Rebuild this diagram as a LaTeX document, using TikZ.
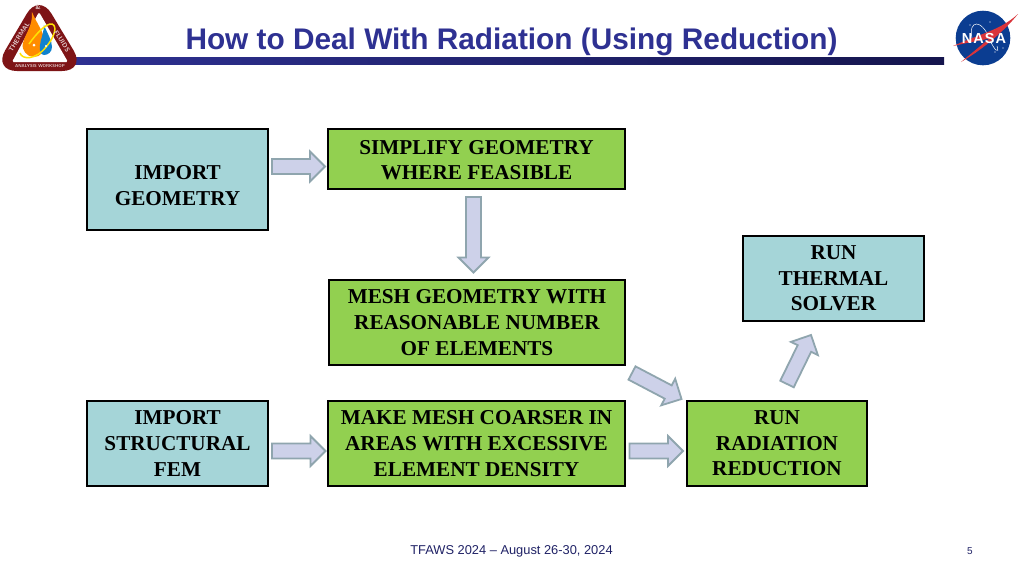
\documentclass[tikz,border=0pt]{standalone}
\usepackage{fontspec}
\setmainfont{Liberation Serif}
\newfontfamily\sansf{Liberation Sans}
\newfontfamily\nasaf[LetterSpace=7]{Liberation Sans}
\usetikzlibrary{calc,positioning}
\definecolor{boxgreen}{HTML}{92D050}
\definecolor{boxteal}{HTML}{A5D5D8}
\definecolor{arrowfill}{HTML}{CDD1E9}
\definecolor{arrowline}{HTML}{8FA5AE}
\definecolor{titleblue}{HTML}{2E3192}
\definecolor{barend}{HTML}{15154D}
\definecolor{logored}{HTML}{7E1416}
\definecolor{nasablue}{HTML}{0B3D91}
\definecolor{nasared}{HTML}{D9343A}
\tikzset{
 x=1pt,y=-1pt,
 flowbox/.style={draw=black,line width=1.7pt,inner sep=0pt,align=center,
   font=\fontsize{21.2}{25.6}\selectfont\bfseries},
 greenbox/.style={flowbox,fill=boxgreen},
 tealbox/.style={flowbox,fill=boxteal},
 flowtext/.style={inner sep=0pt,align=center,font=\fontsize{21.2}{25.6}\selectfont\bfseries},
 blockarrow/.style={draw=arrowline,fill=arrowfill,line width=1.8pt,line join=miter,
  to path={
   coordinate (hb) at ($(\tikztotarget)!15pt!(\tikztostart)$)
   coordinate (s1) at ($(\tikztostart)!7.5pt!90:(\tikztotarget)$)
   coordinate (s2) at ($(\tikztostart)!7.5pt!-90:(\tikztotarget)$)
   coordinate (h1) at ($(hb)!7.5pt!90:(\tikztotarget)$)
   coordinate (h2) at ($(hb)!7.5pt!-90:(\tikztotarget)$)
   coordinate (w1) at ($(hb)!15pt!90:(\tikztotarget)$)
   coordinate (w2) at ($(hb)!15pt!-90:(\tikztotarget)$)
   (s1) -- (h1) -- (w1) -- (\tikztotarget) -- (w2) -- (h2) -- (s2) -- cycle}},
 logotext/.style={inner sep=0pt,text=white!80!logored,font=\sffamily\bfseries\fontsize{6.5}{6.5}\selectfont},
}
\begin{document}
\begin{tikzpicture}
\useasboundingbox (0,0) rectangle (1024,576);
\fill[white] (0,0) rectangle (1024,576);
% title bar
\shade[left color=titleblue,right color=barend] (70,57) rectangle (944,64);
\node[name=title,text=titleblue,inner sep=0pt,font=\sansf\bfseries\fontsize{29.8}{32}\selectfont] at (511.5,42) {How to Deal With Radiation (Using Reduction)};
% left logo
\fill[logored,rounded corners=24pt] (39,-7) -- (86,71) -- (-7,71) -- cycle;
\fill[white,rounded corners=1.5pt] (39,12) -- (68,62) -- (12,62) -- cycle;
\fill[orange!90!yellow] (32,12) .. controls (37,24) and (44,32) .. (45,43) .. controls (45,52) and (40,57) .. (34,57) .. controls (27,57) and (21,50) .. (23,43) .. controls (25,34) and (33,26) .. (32,12) -- cycle;
\fill[cyan!65!blue] (44,25) .. controls (47,33) and (52,40) .. (52,47) .. controls (52,52) and (48,55) .. (44,55) .. controls (41,55) and (39,51) .. (40,45) .. controls (41,38) and (44,32) .. (44,25) -- cycle;
\draw[yellow!85!orange,line width=1.5pt] (20,53) .. controls (22,60) and (36,60) .. (46,47) .. controls (54,38) and (58,26) .. (52,24) .. controls (46,23) and (36,34) .. (29,44);
\fill[white] (34,45) circle (1.5) (46,46) circle (1.2);
\node[logotext] (lg1) at (38,7.5) {\&};
\node[logotext,rotate=58] (lg2) at (19,37) {THERMAL};
\node[logotext,rotate=-58] (lg3) at (62,41) {FLUIDS};
\node[logotext,font=\sffamily\bfseries\fontsize{4.3}{4.3}\selectfont] (lg4) at (40,66.5) {ANALYSIS WORKSHOP};
% NASA logo
\fill[nasablue] (983,38) circle (27.3);
\foreach \px/\py in {970/25,990/22,1000/30,975/52,995/52,965/40,1003/48}{\fill[white] (\px,\py) circle (0.6);}
\draw[white,line width=0.5pt] (972,38) .. controls (968,20) and (982,18) .. (990,40) .. controls (994,50) and (1000,55) .. (997,46);
\fill[nasared] (1018,14) .. controls (1000,30) and (985,32) .. (953,46) .. controls (980,40) and (985,40) .. (990,38) -- (961,62) .. controls (985,48) and (1005,30) .. (1018,14) -- cycle;
\node[inner sep=0pt,text=white,font=\nasaf\bfseries\fontsize{14.5}{15}\selectfont] (nasa) at (984,38.5) {NASA};
% boxes
\node[tealbox,minimum width=181pt,minimum height=101pt] (imp) at (177.5,179.5) {};
\node[flowtext,yshift=-6pt] (impt) at (imp.center) {IMPORT\\GEOMETRY};
\node[greenbox,minimum width=297pt,minimum height=60pt] (sim) at (476.5,159) {};
\node[flowtext,yshift=-1pt] (simt) at (sim.center) {SIMPLIFY GEOMETRY\\WHERE FEASIBLE};
\node[greenbox,minimum width=296pt,minimum height=85pt] (mesh) at (477,322.5) {MESH GEOMETRY WITH\\REASONABLE NUMBER\\OF ELEMENTS};
\node[tealbox,minimum width=181pt,minimum height=85pt] (fem) at (177.5,443.5) {IMPORT\\STRUCTURAL\\FEM};
\node[greenbox,minimum width=297pt,minimum height=85pt] (coarse) at (476.5,443.5) {MAKE MESH COARSER IN\\AREAS WITH EXCESSIVE\\ELEMENT DENSITY};
\node[greenbox,minimum width=180pt,minimum height=85pt] (rad) at (777,443.5) {RUN\\RADIATION\\REDUCTION};
\node[tealbox,minimum width=181pt,minimum height=85pt] (therm) at (833.5,278.5) {RUN\\THERMAL\\SOLVER};
% connector ends
\coordinate (a1s) at (272,166.5); \coordinate (a1e) at (325,166.5);
\coordinate (a2s) at (473.5,197); \coordinate (a2e) at (473.5,272.5);
\coordinate (a3s) at (632,373); \coordinate (a3e) at (681.5,399);
\coordinate (a4s) at (787,384); \coordinate (a4e) at (811,335);
\coordinate (a5s) at (629.5,451); \coordinate (a5e) at (683,451);
\coordinate (a6s) at (272,451); \coordinate (a6e) at (325.5,451);
\path[blockarrow] (a1s) to (a1e);
\path[blockarrow] (a2s) to (a2e);
\path[blockarrow] (a3s) to (a3e);
\path[blockarrow] (a4s) to (a4e);
\path[blockarrow] (a5s) to (a5e);
\path[blockarrow] (a6s) to (a6e);
% footer
\node[inner sep=0pt,text=titleblue!70!black,font=\sansf\fontsize{12.85}{14}\selectfont] (foot) at (511.5,551.5) {TFAWS 2024 – August 26-30, 2024};
\node[inner sep=0pt,text=titleblue!70!black,font=\sansf\fontsize{10}{12}\selectfont] (pg) at (970,551) {5};
\end{tikzpicture}
\end{document}
